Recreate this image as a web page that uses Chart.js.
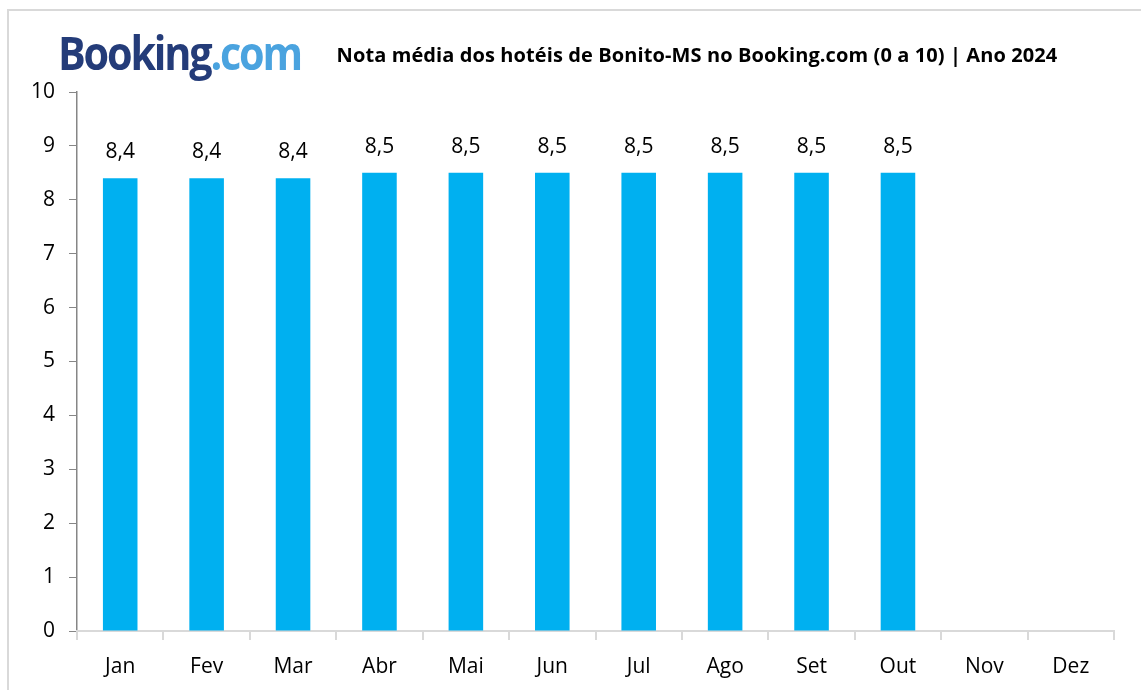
<!DOCTYPE html>
<html>
<head>
<meta charset="utf-8">
<script src="https://cdn.jsdelivr.net/npm/chart.js@4/dist/chart.umd.min.js"></script>
<style>
  html, body { margin: 0; padding: 0; background: #fff; }
  #wrap { position: relative; width: 1141px; height: 690px; overflow: hidden; }
  #frame { position: absolute; left: 7px; top: 9px; width: 1200px; height: 800px; border: 2px solid #d9d9d9; box-sizing: border-box; }
  #chart { position: absolute; left: 0; top: 0; }
  #logo { position: absolute; left: 58px; top: 29px; font-family: "Open Sans", sans-serif; font-weight: 700; font-size: 47px; letter-spacing: -2.5px; white-space: nowrap; line-height: 1; transform: scaleX(0.88); transform-origin: left top; }
  #logo .b { color: #243c79; }
  #logo .c { color: #4aa3df; }
  #title { position: absolute; left: 697px; top: 41px; transform: translateX(-50%); font-family: "Open Sans", sans-serif; font-weight: 700; font-size: 20px; letter-spacing: 0.1px; white-space: nowrap; color: #000; }
</style>
</head>
<body>
<div id="wrap">
  <div id="frame"></div>
  <canvas id="chart" width="1141" height="690"></canvas>
  <div id="logo"><span class="b">Booking</span><span class="c">.com</span></div>
  <div id="title">Nota média dos hotéis de Bonito-MS no Booking.com (0 a 10) | Ano 2024</div>
</div>
<script>
// Data
const months = ['Jan', 'Fev', 'Mar', 'Abr', 'Mai', 'Jun', 'Jul', 'Ago', 'Set', 'Out', 'Nov', 'Dez'];
const ratings = [8.4, 8.4, 8.4, 8.5, 8.5, 8.5, 8.5, 8.5, 8.5, 8.5, null, null];
const yTicks = [0, 1, 2, 3, 4, 5, 6, 7, 8, 9, 10];

const labelFont = '"Open Sans", sans-serif';

// value labels above bars, Excel style with comma decimal
const valueLabels = {
  id: 'valueLabels',
  afterDatasetsDraw(chart) {
    const ctx = chart.ctx;
    const meta = chart.getDatasetMeta(0);
    ctx.save();
    ctx.font = '21px ' + labelFont;
    ctx.fillStyle = '#000';
    ctx.textAlign = 'center';
    ctx.textBaseline = 'middle';
    meta.data.forEach((bar, i) => {
      const v = ratings[i];
      if (v == null) return;
      ctx.fillText(v.toFixed(1).replace('.', ','), bar.x, bar.y - 26);
    });
    ctx.restore();
  }
};

new Chart(document.getElementById('chart'), {
  type: 'bar',
  data: {
    labels: months,
    datasets: [{
      data: ratings,
      backgroundColor: '#00b0f0',
      categoryPercentage: 1,
      barPercentage: 0.4
    }]
  },
  options: {
    responsive: false,
    animation: false,
    layout: { padding: { top: 92, left: 0, right: 27, bottom: 0 } },
    plugins: { legend: { display: false }, tooltip: { enabled: false } },
    scales: {
      y: {
        min: 0, max: 10,
        afterFit(s) { s.width = 77; },
        afterBuildTicks(s) { s.ticks = yTicks.map(v => ({ value: v })); },
        border: { color: '#868686', width: 1.5 },
        grid: { drawOnChartArea: false, tickLength: 8, color: '#868686' },
        ticks: { color: '#000', font: { family: labelFont, size: 21 }, padding: 14 }
      },
      x: {
        afterFit(s) { s.height = 59; },
        border: { color: '#d9d9d9', width: 2 },
        grid: { drawOnChartArea: false, tickLength: 9, color: '#d9d9d9', lineWidth: 2, offset: true },
        ticks: { color: '#000', font: { family: labelFont, size: 21 }, padding: 14 }
      }
    }
  },
  plugins: [valueLabels]
});
</script>
</body>
</html>
